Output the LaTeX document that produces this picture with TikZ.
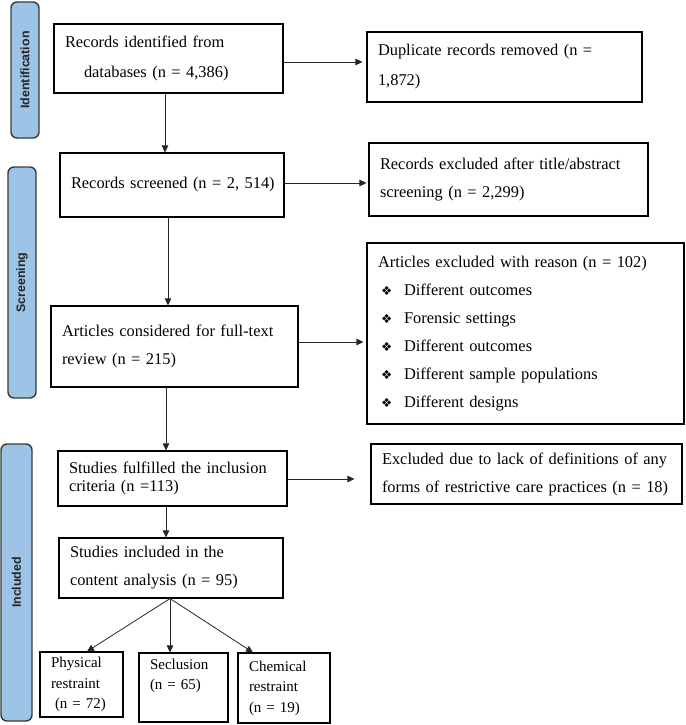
\documentclass[tikz,border=0pt]{standalone}
\usepackage{fontspec}
\setmainfont{Liberation Serif}
\newfontfamily\labelfont{Liberation Sans}
\newfontfamily\symfont{DejaVu Sans}
\usetikzlibrary{arrows.meta}
\definecolor{phase}{HTML}{9DC3E6}
\definecolor{phaseline}{HTML}{3A3A3A}
\newcommand{\bul}{\makebox[26pt][l]{\hspace*{3pt}{\symfont\fontsize{12.5}{12}\selectfont ❖}}}
\begin{document}
\begin{tikzpicture}[x=1pt,y=-1pt,
  box/.style={draw=black, line width=1.1pt, inner xsep=11pt, inner ysep=0pt, align=left, anchor=center,
    font=\fontsize{16.4}{28}\selectfont},
  small/.style={font=\fontsize{15}{20.5}\selectfont},
  phasebox/.style={draw=phaseline, fill=phase, line width=1.4pt, rounded corners=6pt, rotate=90,
    inner sep=0pt, font=\labelfont\bfseries\fontsize{12.4}{12}\selectfont, text=black!85},
  arr/.style={-{Triangle[length=7pt,width=6.5pt]}, line width=0.8pt, draw=black!85}]
\useasboundingbox (0,0) rectangle (685,725);

% phase labels
\node[phasebox, minimum width=136pt, minimum height=28pt] (L1) at (25,70) {Identification};
\node[phasebox, minimum width=231pt, minimum height=28pt] (L2) at (22,282.5) {Screening};
\node[phasebox, minimum width=277pt, minimum height=31pt] (L3) at (16.5,582.5) {Included};

% boxes
\node[box, font=\fontsize{16.4}{30}\selectfont, minimum width=229pt, minimum height=69pt, text width=207pt] (B1) at (168.5,58.5)
  {Records identified from\\\hspace*{19pt}databases (n = 4,386)};
\node[box, font=\fontsize{16.4}{30}\selectfont, minimum width=275pt, minimum height=70pt, text width=253pt] (B2) at (504.5,67)
  {Duplicate records removed (n =\\1,872)};
\node[box, minimum width=224pt, minimum height=64pt, text width=202pt] (B3) at (172,185)
  {\mbox{Records screened (n = 2, 514)}};
\node[box, minimum width=279pt, minimum height=73pt, text width=257pt] (B4) at (508.5,179.5)
  {Records excluded after title/abstract\\screening (n = 2,299)};
\node[box, minimum width=247pt, minimum height=81pt, text width=225pt] (B5) at (174.5,346.5)
  {Articles considered for full-text\\review (n = 215)};
\node[box, minimum width=317pt, minimum height=181pt, text width=295pt] (B6) at (525.5,333.5)
  {Articles excluded with reason (n = 102)\\
   \bul Different outcomes\\
   \bul Forensic settings\\
   \bul Different outcomes\\
   \bul Different sample populations\\
   \bul Different designs};
\node[box, font=\fontsize{16.4}{18}\selectfont, minimum width=229pt, minimum height=55pt, text width=207pt] (B7) at (172.5,478.5)
  {Studies fulfilled the inclusion\\criteria (n =113)};
\node[box, minimum width=311pt, minimum height=60pt, text width=289pt] (B8) at (526.5,474)
  {Excluded due to lack of definitions of any\\forms of restrictive care practices (n = 18)};
\node[box, minimum width=224pt, minimum height=60pt, text width=202pt] (B9) at (171,568)
  {Studies included in the\\content analysis (n = 95)};
\node[box, small, minimum width=83pt, minimum height=65pt, text width=61pt] (B10) at (81.5,684.5)
  {Physical\\restraint\\\hspace*{4pt}(n = 72)};
\node[box, small, minimum width=89pt, minimum height=69pt, text width=67pt] (B11) at (183.5,687.5)
  {Seclusion\\(n = 65)\\\strut};
\node[box, small, minimum width=92pt, minimum height=70pt, text width=70pt] (B12) at (284,688)
  {Chemical\\restraint\\(n = 19)};

% horizontal arrows
\draw[arr, shorten >=4pt] ([yshift=-3.5pt]B1.east) -- ([yshift=5pt]B2.west);
\draw[arr, shorten >=2pt] ([yshift=2pt]B3.east) -- ([yshift=-3.5pt]B4.west);
\draw[arr, shorten >=3pt] ([yshift=4.5pt]B5.east) -- ([yshift=-8.5pt]B6.west);
\draw[arr, shorten >=16pt] ([yshift=-0.5pt]B7.east) -- ([yshift=-5pt]B8.west);

% vertical arrows
\draw[arr] ([xshift=-3.5pt]B1.south) -- ([xshift=-7pt]B3.north);
\draw[arr] ([xshift=-4pt]B3.south) -- ([xshift=-6.5pt]B5.north);
\draw[arr] ([xshift=-8.5pt]B5.south) -- ([xshift=-6.5pt]B7.north);
\draw[arr] ([xshift=-6.5pt]B7.south) -- ([xshift=-5pt]B9.north);

% split arrows
\draw[arr] ([xshift=-1pt]B9.south) -- ([xshift=5.5pt]B10.north);
\draw[arr] ([xshift=-1pt]B9.south) -- ([xshift=-13.5pt]B11.north);
\draw[arr] ([xshift=-1pt]B9.south) -- ([xshift=-31pt]B12.north);
\end{tikzpicture}
\end{document}
